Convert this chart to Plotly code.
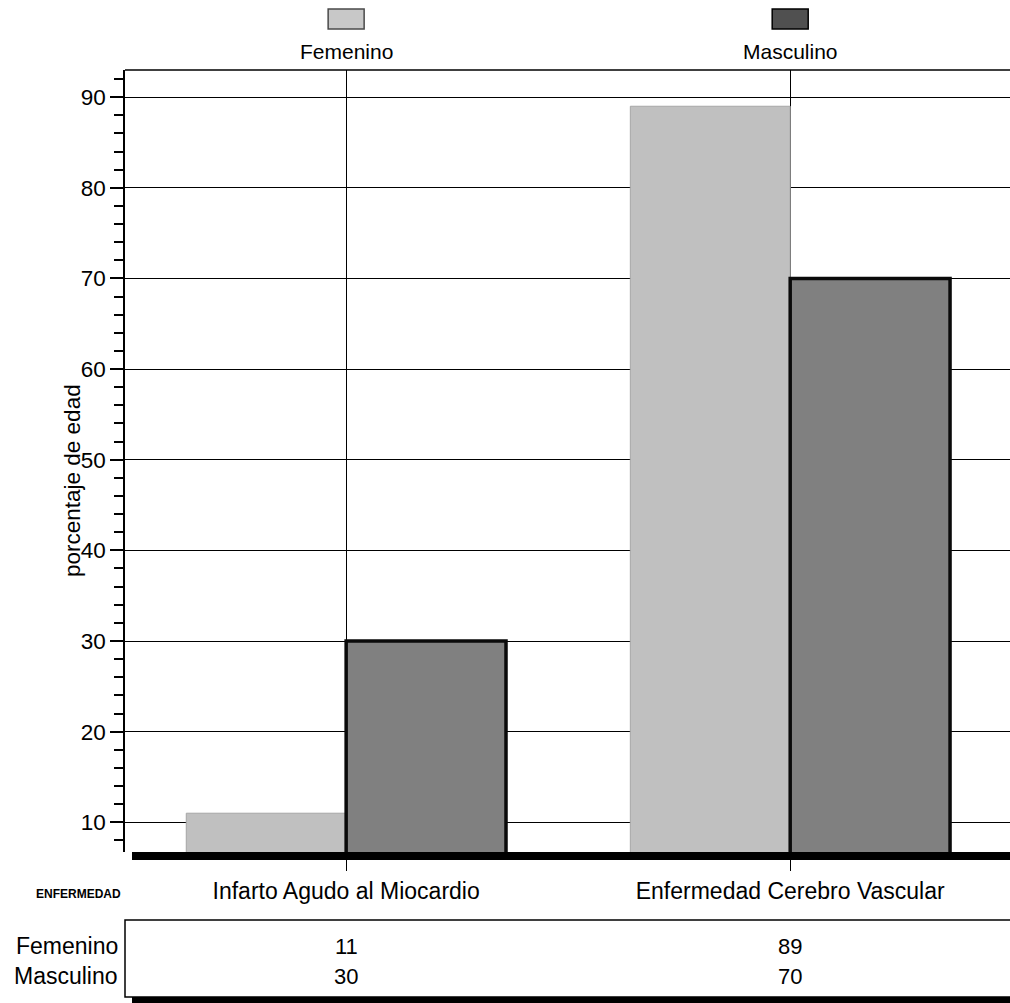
import plotly.graph_objects as go

# ---- data ----
categories = ["Infarto Agudo al Miocardio", "Enfermedad Cerebro Vascular"]
series_names = ["Femenino", "Masculino"]
femenino = [11, 89]
masculino = [30, 70]
y_tick_vals = [10, 20, 30, 40, 50, 60, 70, 80, 90]
x_title = "ENFERMEDAD"
y_title = "porcentaje de edad"

# ---- layout geometry (pixels) ----
W, H = 1010, 1003
L, T, R, B = 125, 70, 1010, 852
XR = [-0.498, 1.495]
YR = [6.72, 93.0]

def px(x):
    return (x - L) / (R - L)

def py(y):
    return (B - y) / (B - T)

def cat_px(i):
    return L + (i - XR[0]) / (XR[1] - XR[0]) * (R - L)

FONT = "Liberation Sans, Arial, sans-serif"
fill_colors = ["#c0c0c0", "#808080"]
line_colors = ["#a6a6a6", "#0a0a0a"]
line_widths = [1, 3.5]
series_values = [femenino, masculino]

fig = go.Figure()
for name, vals, fc, lc, lw in zip(series_names, series_values, fill_colors, line_colors, line_widths):
    fig.add_trace(go.Bar(
        x=categories, y=vals, name=name,
        marker=dict(color=fc, line=dict(color=lc, width=lw)),
        hoverinfo="x+y+name",
    ))

fig.update_layout(
    width=W, height=H,
    margin=dict(l=L, r=W - R, t=T, b=H - B, pad=0),
    paper_bgcolor="white", plot_bgcolor="white",
    barmode="group", bargap=0.28, bargroupgap=0,
    showlegend=False,
    font=dict(family=FONT, color="black"),
)

fig.update_xaxes(
    type="category", range=XR,
    showgrid=True, gridcolor="black", gridwidth=1,
    showline=False, zeroline=False,
    ticks="outside", ticklen=18, tickwidth=1, tickcolor="black",
    tickfont=dict(size=23, family=FONT, color="black"),
)
fig.update_yaxes(
    range=YR, tickvals=y_tick_vals,
    showgrid=True, gridcolor="black", gridwidth=1,
    zeroline=False,
    showline=True, linecolor="black", linewidth=1.5,
    ticks="outside", ticklen=13, tickwidth=1.5, tickcolor="black",
    tickfont=dict(size=22.5, family=FONT, color="black"),
    minor=dict(dtick=2, tick0=0, ticks="outside", ticklen=9,
               tickwidth=1.5, tickcolor="black", showgrid=False),
)

shapes = []
# top border
shapes.append(dict(type="line", xref="paper", yref="paper", x0=0, x1=1.01, y0=1, y1=1,
                   line=dict(color="black", width=1.5)))
# thick base shadow under plot
shapes.append(dict(type="rect", xref="paper", yref="paper", x0=px(132), x1=1.01,
                   y0=py(860), y1=py(852), fillcolor="black", line=dict(width=0), layer="below"))
# data table box
shapes.append(dict(type="rect", xref="paper", yref="paper", x0=0, x1=1.01,
                   y0=py(997), y1=py(920), line=dict(color="black", width=1.5)))
shapes.append(dict(type="rect", xref="paper", yref="paper", x0=px(132), x1=1.01,
                   y0=py(1005), y1=py(997), fillcolor="black", line=dict(width=0)))

annotations = []
# y title
annotations.append(dict(text=y_title, xref="paper", yref="paper", x=px(72), y=py(481),
                        textangle=-90, showarrow=False, xanchor="center", yanchor="middle",
                        font=dict(size=22.5, family=FONT, color="black")))
# legend (squares above category centres)
leg_border = ["#4a4a4a", "#000000"]
leg_fill = ["#c8c8c8", "#505050"]
for i, name in enumerate(series_names):
    cx = cat_px(i)
    shapes.append(dict(type="rect", xref="paper", yref="paper",
                       x0=px(cx - 18), x1=px(cx + 18), y0=py(29), y1=py(9),
                       fillcolor=leg_fill[i], line=dict(color=leg_border[i], width=1.5)))
    annotations.append(dict(text=name, xref="paper", yref="paper", x=px(cx), y=py(52),
                            showarrow=False, xanchor="center", yanchor="middle",
                            font=dict(size=21, family=FONT, color="black")))
# x-axis variable name
annotations.append(dict(text="<b>" + x_title + "</b>", xref="paper", yref="paper",
                        x=px(123), y=py(894), showarrow=False, xanchor="right", yanchor="middle",
                        font=dict(size=12, family=FONT, color="black")))
# data table rows
row_y = [946, 976]
for r, (name, vals) in enumerate(zip(series_names, series_values)):
    annotations.append(dict(text=name, xref="paper", yref="paper", x=px(120), y=py(row_y[r]),
                            showarrow=False, xanchor="right", yanchor="middle",
                            font=dict(size=23, family=FONT, color="black")))
    for i, v in enumerate(vals):
        annotations.append(dict(text=str(v), xref="paper", yref="paper", x=px(cat_px(i)),
                                y=py(row_y[r]), showarrow=False, xanchor="center",
                                yanchor="middle",
                                font=dict(size=22, family=FONT, color="black")))

fig.update_layout(shapes=shapes, annotations=annotations)
fig.write_html("out.html")
